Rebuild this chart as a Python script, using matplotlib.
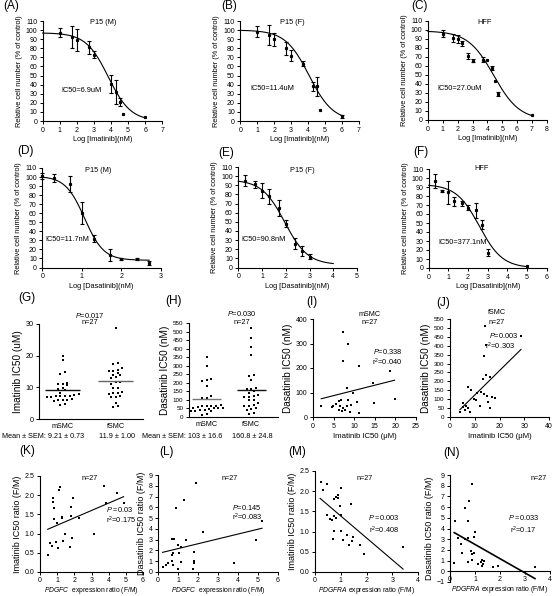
import numpy as np
import matplotlib
matplotlib.use('Agg')
import matplotlib.pyplot as plt

plt.rcParams['font.family'] = ['Liberation Sans', 'DejaVu Sans']
plt.rcParams['mathtext.fontset'] = 'custom'
plt.rcParams['mathtext.rm'] = 'Liberation Sans'
plt.rcParams['mathtext.it'] = 'Liberation Sans:italic'

# ---------------- data: dose-response panels ----------------
A_x = [1, 1.7, 2, 2.7, 3, 4, 4.3, 4.5, 4.7, 6]
A_y = [97, 92, 89, 81, 73, 41, 32, 21, 8, 4]
A_e = [5, 12, 12, 7, 4, 10, 13, 4, 0, 0]
A_fit = dict(top=97, bottom=0, logic50=3.84, hill=0.665, x0=0, x1=6)

B_x = [1, 1.7, 2, 2.7, 3, 3.7, 4.3, 4.5, 4.7, 6]
B_y = [98, 95, 90, 80, 72, 63, 38, 38, 12, 5]
B_e = [6, 11, 7, 7, 6, 3, 5, 10, 0, 2]
B_fit = dict(top=100, bottom=0, logic50=4.06, hill=0.62, x0=0, x1=6)

C_x = [1, 1.7, 2, 2.3, 2.7, 3, 3.7, 4, 4.3, 4.5, 4.7, 7]
C_y = [96, 91, 90, 85, 71, 66, 67, 67, 58, 43, 29, 5]
C_e = [4, 4, 4, 3, 3, 2, 3, 0, 2, 0, 2, 0]
C_fit = dict(top=99, bottom=0, logic50=4.43, hill=0.5, x0=0, x1=7)

D_x = [0, 0.3, 0.7, 1, 1.3, 1.7, 2, 2.4, 2.7]
D_y = [101, 99, 92, 60, 32, 14, 9, 9, 5]
D_e = [3, 4, 9, 12, 4, 7, 1, 1, 2]
D_fit = dict(top=101, bottom=8, logic50=1.068, hill=1.8, x0=0, x1=2.7)

E_x = [0.3, 0.7, 1, 1.3, 1.7, 2, 2.4, 2.7, 3]
E_y = [95, 91, 84, 78, 65, 48, 26, 18, 12]
E_e = [6, 4, 8, 8, 9, 4, 6, 5, 3]
E_fit = dict(top=96, bottom=3, logic50=1.958, hill=0.9, x0=0, x1=4)

F_x = [0.3, 0.7, 1, 1.3, 1.7, 2, 2.4, 2.7, 3, 5]
F_y = [97, 86, 84, 74, 72, 67, 64, 48, 17, 2]
F_e = [8, 1, 13, 5, 3, 3, 8, 5, 4, 0]
F_fit = dict(top=93, bottom=0, logic50=2.576, hill=0.74, x0=0, x1=5)

# ---------------- data: column scatter ----------------
groups = ['mSMC', 'fSMC']
G_m = [19.8, 18.6, 14.8, 14.3, 11.3, 11.2, 10.9, 10.6, 9.8, 9.6, 9.2, 8.3, 8.0,
       7.5, 7.3, 7.2, 7.1, 7.4, 7.0, 7.3, 6.3, 6.1, 6.0, 5.9, 5.6, 4.6, 4.5]
G_f = [28.6, 17.8, 17.3, 16.0, 15.4, 15.3, 15.2, 14.5, 14.0, 13.8, 13.2, 12.9, 11.8,
       11.7, 11.2, 9.7, 9.9, 8.6, 8.2, 8.0, 8.1, 7.2, 7.0, 6.9, 5.0, 4.1, 3.8]
G_means = [9.21, 11.9]
G_stats = ['9.21 ± 0.73', '11.9 ± 1.00']

H_m = [351, 296, 222, 218, 208, 179, 121, 111, 110, 68, 66, 64, 63, 62, 60, 55,
       53, 52, 50, 37, 35, 33, 18, 14, 45, 42, 40]
H_f = [520, 462, 409, 364, 247, 238, 218, 170, 164, 166, 140, 121, 117, 119, 101,
       97, 66, 68, 64, 43, 45, 20, 22, 150, 130, 80, 55]
H_means = [103, 160.8]
H_stats = ['103 ± 16.6', '160.8 ± 24.8']

# ---------------- data: correlations ----------------
I_x = [2.0, 4.6, 4.8, 6.2, 6.8, 6.2, 7.2, 7.8, 6.6, 7.4, 7.2, 8.6, 8.2, 8.4, 8.2,
       9.2, 9.6, 10.8, 11.2, 11.2, 14.5, 14.9, 18.8, 19.8, 5.5, 7.0, 9.0]
I_y = [46, 39, 46, 30, 71, 64, 37, 30, 46, 227, 347, 299, 118, 71, 46,
       50, 100, 60, 16, 207, 137, 56, 189, 72, 55, 25, 20]
I_fit = dict(slope=4.25, intercept=66, x0=2.0, x1=19.8)

J_x = [14.1, 28.7, 14.4, 13.9, 14.4, 13.5, 16.2, 7.1, 8.5, 10.8, 10.4, 12.5, 13.9,
       14.8, 16.8, 18.2, 15.2, 12.1, 16.2, 5.4, 5.4, 7.4, 8.1, 4.0, 6.0, 9.5, 6.5]
J_y = [509, 453, 402, 345, 238, 215, 225, 169, 150, 135, 97, 139, 129,
       120, 112, 107, 82, 64, 51, 79, 56, 51, 26, 26, 41, 100, 60]
J_fit = dict(slope=13.7, intercept=-13.8, x0=4.0, x1=28.7)

K_x = [0.45, 0.58, 0.72, 0.78, 0.78, 0.82, 0.82, 0.94, 1.01, 1.07, 1.13, 1.17, 1.27,
       1.31, 1.36, 1.46, 1.72, 1.79, 1.81, 1.89, 1.95, 2.28, 3.12, 3.70, 3.86, 4.48, 4.87]
K_y = [0.43, 0.75, 0.67, 1.94, 1.83, 1.66, 1.38, 0.78, 1.27, 0.62, 2.14, 2.21, 1.40,
       1.44, 0.81, 0.99, 0.64, 1.69, 1.45, 0.88, 1.94, 1.40, 0.99, 2.25, 1.79, 2.05, 1.79]
K_fit = dict(slope=0.192, intercept=1.026, x0=0.45, x1=4.87)

L_x = [0.23, 0.40, 0.48, 0.70, 0.70, 0.73, 0.70, 0.75, 0.80, 0.90, 0.77, 0.98, 1.07,
       1.15, 1.15, 1.28, 1.40, 0.98, 1.73, 1.90, 1.82, 1.82, 1.82, 2.27, 3.82, 4.90, 5.20]
L_y = [0.46, 0.68, 0.83, 1.05, 1.60, 1.76, 3.10, 3.10, 3.10, 5.95, 0.68, 2.53, 1.76,
       2.28, 0.90, 6.64, 3.00, 0.28, 0.31, 8.24, 1.85, 1.05, 0.83, 3.70, 0.83, 3.00, 4.75]
L_fit = dict(slope=0.45, intercept=1.72, x0=0.23, x1=5.2)

M_x = [0.23, 0.30, 0.45, 0.45, 0.65, 0.75, 0.82, 0.75, 0.82, 0.88, 0.91, 0.71, 0.75,
       0.97, 1.01, 1.01, 1.01, 1.10, 1.23, 1.32, 1.39, 1.43, 1.49, 1.73, 1.92, 3.42, 0.60]
M_y = [2.22, 2.04, 2.17, 1.42, 1.28, 1.38, 1.34, 1.80, 1.86, 1.90, 1.82, 0.81, 1.01,
       1.63, 2.09, 1.40, 1.01, 0.80, 0.91, 0.68, 1.68, 0.77, 0.87, 0.66, 0.44, 0.62, 1.30]
M_fit = dict(slope=-0.543, intercept=1.93, x0=0.2, x1=3.42)

N_x = [0.20, 0.17, 0.31, 0.44, 0.47, 0.60, 0.71, 0.73, 0.73, 0.77, 0.87, 0.84, 0.87,
       0.87, 0.97, 0.97, 1.00, 1.11, 1.24, 1.29, 1.33, 1.37, 1.73, 1.91, 3.40, 1.27, 0.60]
N_y = [4.66, 0.78, 3.07, 2.55, 1.71, 5.90, 0.87, 4.72, 3.07, 6.58, 8.14, 1.93, 1.61,
       1.06, 1.71, 3.17, 3.63, 0.68, 0.84, 1.06, 0.68, 0.99, 0.37, 0.53, 0.37, 0.53, 3.00]
N_fit = dict(slope=-1.33, intercept=3.84, x0=0.17, x1=3.4)

# ---------------- figure helpers ----------------
W, H = 552, 596
fig = plt.figure(figsize=(W / 100, H / 100), dpi=100)


def add_ax(x0, x1, y0, y1):
    return fig.add_axes([x0 / W, 1 - y1 / H, (x1 - x0) / W, (y1 - y0) / H])


def ftext(x, y, s, **kw):
    kw.setdefault('ha', 'center')
    kw.setdefault('va', 'center')
    fig.text(x / W, 1 - y / H, s, **kw)


def style(ax, ls=5):
    for s in ['top', 'right']:
        ax.spines[s].set_visible(False)
    for s in ['left', 'bottom']:
        ax.spines[s].set_linewidth(0.8)
    ax.tick_params(direction='out', length=2.5, width=0.7, labelsize=ls, pad=1.5)


def dose(ax, x, y, e, fit, xmax, xlabel):
    style(ax)
    x = np.array(x, float); y = np.array(y, float); e = np.array(e, float)
    m = e > 0
    ax.errorbar(x[m], y[m], yerr=e[m], fmt='s', ms=1.3, color='black',
                ecolor='black', elinewidth=0.8, capsize=1.5, capthick=0.8, clip_on=False)
    ax.plot(x[~m], y[~m], 's', ms=1.3, color='black', clip_on=False)
    xs = np.linspace(fit['x0'], fit['x1'], 300)
    ys = fit['bottom'] + (fit['top'] - fit['bottom']) / (1 + 10 ** ((xs - fit['logic50']) * fit['hill']))
    ax.plot(xs, ys, color='black', lw=0.8, clip_on=False)
    ax.set_xlim(0, xmax)
    ax.set_ylim(0, 110)
    ax.set_xticks(range(0, xmax + 1))
    ax.set_yticks(range(0, 111, 10))
    ax.set_xlabel(xlabel, fontsize=5.3, labelpad=2)
    ax.set_ylabel('Relative cell number (% of control)', fontsize=5.3, labelpad=2)


# ---------------- rows 1 and 2 ----------------
axA = add_ax(42.7, 162.3, 21, 121)
dose(axA, A_x, A_y, A_e, A_fit, 7, 'Log [Imatinib](nM)')
axB = add_ax(240.3, 359, 21, 121)
dose(axB, B_x, B_y, B_e, B_fit, 7, 'Log [Imatinib](nM)')
axC = add_ax(428, 546.7, 21, 120)
dose(axC, C_x, C_y, C_e, C_fit, 8, 'Log [Imatinib](nM)')
axD = add_ax(42.3, 161, 168, 267.5)
dose(axD, D_x, D_y, D_e, D_fit, 3, 'Log [Dasatinib](nM)')
axE = add_ax(238.3, 357, 167, 267.5)
dose(axE, E_x, E_y, E_e, E_fit, 5, 'Log [Dasatinib](nM)')
axF = add_ax(428.7, 546.7, 169, 268)
dose(axF, F_x, F_y, F_e, F_fit, 6, 'Log [Dasatinib](nM)')

fs_in = 5.3
ftext(103, 23, 'P15 (M)', fontsize=fs_in)
ftext(82, 90, 'IC50=6.9uM', fontsize=fs_in)
ftext(292, 23, 'P15 (F)', fontsize=fs_in)
ftext(272, 89, 'IC50=11.4uM', fontsize=fs_in)
ftext(485, 23, 'HFF', fontsize=fs_in)
ftext(460, 88, 'IC50=27.0uM', fontsize=fs_in)
ftext(98, 171, 'P15 (M)', fontsize=fs_in)
ftext(67, 239, 'IC50=11.7nM', fontsize=fs_in)
ftext(302, 170, 'P15 (F)', fontsize=fs_in)
ftext(264, 239, 'IC50=90.8nM', fontsize=fs_in)
ftext(482, 168, 'HFF', fontsize=fs_in)
ftext(463, 243, 'IC50=377.1nM', fontsize=fs_in)


# ---------------- row 3: column scatters ----------------
def column_positions(ax, center, vals, bin_px=3.4, step_px=4.6):
    """Prism-like column scatter: points grouped in pixel rows, spread evenly."""
    t = ax.transData
    pxu = t.transform((1, 0))[0] - t.transform((0, 0))[0]
    ypx = np.array([t.transform((0, v))[1] for v in vals])
    order = np.argsort(ypx)
    xs = np.zeros(len(vals))
    rows = []
    for i in order:
        if rows and ypx[i] - ypx[rows[-1][0]] < bin_px:
            rows[-1].append(i)
        else:
            rows.append([i])
    for row in rows:
        n = len(row)
        for j, i in enumerate(row):
            xs[i] = center + ((j - (n - 1) / 2) * step_px) / pxu
    return xs


def column(ax, mvals, fvals, means, ylim, yticks, ylabel, mcols):
    style(ax)
    ax.set_ylim(*ylim)
    ax.set_yticks(yticks)
    ax.set_xticks([0, 1])
    ax.set_xticklabels(groups, fontsize=5.2)
    ax.tick_params(axis='x', length=0, pad=3)
    for c, vals in enumerate([mvals, fvals]):
        v = np.array(vals, float)
        xs = column_positions(ax, c, v)
        ax.scatter(xs, v, s=2.6, marker='s', color='black', linewidths=0, clip_on=False)
        ax.hlines(means[c], c - 0.33, c + 0.33, color=mcols[c], lw=1.0)
    ax.set_ylabel(ylabel, fontsize=7.2, labelpad=2)


axG = add_ax(39, 143, 324, 419)
axG.set_xlim(-0.45, 1.52)
column(axG, G_m, G_f, G_means, (0, 30), [0, 10, 20, 30], 'Imatinib IC50 (uM)', ['#111111', '#666666'])
axG.set_xlim(-0.45, 1.52)
axG.tick_params(axis='y', labelsize=5.2)
axH = add_ax(189, 278, 323, 417)
axH.set_xlim(-0.4, 1.6)
column(axH, H_m, H_f, H_means, (0, 550), list(range(0, 551, 50)), 'Dasatinib IC50 (nM)', ['#777777', '#111111'])
axH.set_xlim(-0.4, 1.6)
axH.tick_params(axis='y', labelsize=4.5)

ftext(90, 315, r'$\mathit{P}$=0.017', fontsize=5.3)
ftext(90, 323, 'n=27', fontsize=5.3)
ftext(242, 314, r'$\mathit{P}$=0.030', fontsize=5.3)
ftext(242, 323, 'n=27', fontsize=5.3)
ftext(84, 437, 'Mean ± SEM: ' + G_stats[0], fontsize=5.2, ha='right')
ftext(117, 437, G_stats[1], fontsize=5.2)
ftext(222, 437, 'Mean ± SEM: ' + H_stats[0], fontsize=5.2, ha='right')
ftext(252, 437, H_stats[1], fontsize=5.2)


def corr(ax, x, y, fit, xlim, ylim, xticks, yticks, xlabel, ylabel, xfs, yfs, lw=0.8, fmt=None, xpad=2.5):
    style(ax)
    ax.scatter(x, y, s=1.8, marker='s', color='black', linewidths=0, clip_on=False)
    xs = np.array([fit['x0'], fit['x1']])
    ax.plot(xs, fit['intercept'] + fit['slope'] * xs, color='black', lw=lw)
    ax.set_xlim(*xlim)
    ax.set_ylim(*ylim)
    ax.set_xticks(xticks)
    ax.set_yticks(yticks)
    if fmt:
        ax.set_yticklabels([fmt % v for v in yticks])
    ax.set_xlabel(xlabel, fontsize=xfs, labelpad=xpad)
    ax.set_ylabel(ylabel, fontsize=yfs, labelpad=2)


axI = add_ax(313, 416, 319, 417)
corr(axI, I_x, I_y, I_fit, (0, 25), (0, 400), range(0, 26, 5), range(0, 401, 100),
     'Imatinib IC50 (μM)', 'Dasatinib IC50 (nM)', 5.6, 7.2)
axJ = add_ax(450, 549, 319, 417)
corr(axJ, J_x, J_y, J_fit, (0, 40), (0, 550), range(0, 41, 10), range(0, 551, 50),
     'Imatinib IC50 (μM)', 'Dasatinib IC50 (nM)', 5.6, 7.2)
axJ.tick_params(axis='y', labelsize=4.5)

ftext(370, 314, 'mSMC', fontsize=5.2)
ftext(370, 323, 'n=27', fontsize=5.2)
ftext(373, 352, r'$\mathit{P}$=0.338', fontsize=5.3, ha='left')
ftext(372, 362, r'r$^2$=0.040', fontsize=5.3, ha='left')
ftext(497, 313, 'fSMC', fontsize=5.2)
ftext(497, 322, 'n=27', fontsize=5.2)
ftext(489, 336, r'$\mathit{P}$=0.003', fontsize=5.3, ha='left')
ftext(485, 346, r'r$^2$=0.303', fontsize=5.3, ha='left')

# ---------------- row 4 ----------------
axK = add_ax(40, 143, 476, 572)
corr(axK, K_x, K_y, K_fit, (0, 6), (0, 2.5), range(0, 7), [0, 0.5, 1.0, 1.5, 2.0, 2.5],
     r'$\mathit{PDGFC}$  expression ratio (F/M)', 'Imatinib IC50 ratio (F/M)', 4.9, 6.5, fmt='%.1f', xpad=0.8)
axL = add_ax(158, 278, 475, 572)
corr(axL, L_x, L_y, L_fit, (0, 6), (0, 9), range(0, 7), range(0, 10),
     r'$\mathit{PDGFC}$  expression ratio (F/M)', 'Dasatinib IC50 ratio (F/M)', 4.9, 6.5, xpad=0.8)
axM = add_ax(315, 418, 471, 572)
corr(axM, M_x, M_y, M_fit, (0, 4), (0, 2.5), range(0, 5), [0, 0.5, 1.0, 1.5, 2.0, 2.5],
     r'$\mathit{PDGFRA}$ expression ratio (F/M)', 'Imatinib IC50 ratio (F/M)', 4.9, 6.5, fmt='%.1f', xpad=0.8)
axN = add_ax(450, 550, 475, 582)
corr(axN, N_x, N_y, N_fit, (0, 4), (-1, 9), range(0, 5), range(-1, 10),
     r'$\mathit{PDGFRA}$ expression ratio (F/M)', 'Dasatinib IC50 ratio (F/M)', 4.9, 6.5, lw=1.2, xpad=0.8)
axN.spines['bottom'].set_position(('data', 0))
for ax in (axK, axL, axM, axN):
    ax.tick_params(axis='x', pad=1.0)

ftext(90, 478, 'n=27', fontsize=5.2)
ftext(106, 510, r'$\mathit{P}$ =0.03', fontsize=5.3, ha='left')
ftext(106, 520, r'r$^2$=0.175', fontsize=5.3, ha='left')
ftext(230, 478, 'n=27', fontsize=5.2)
ftext(232, 507, r'$\mathit{P}$=0.145', fontsize=5.3, ha='left')
ftext(232, 517, r'r$^2$=0.083', fontsize=5.3, ha='left')
ftext(365, 478, 'n=27', fontsize=5.2)
ftext(368, 518, r'$\mathit{P}$ =0.003', fontsize=5.3, ha='left')
ftext(369, 530, r'r$^2$=0.408', fontsize=5.3, ha='left')
ftext(539, 478, 'n=27', fontsize=5.2)
ftext(508, 518, r'$\mathit{P}$ =0.033', fontsize=5.3, ha='left')
ftext(510, 530, r'r$^2$=0.17', fontsize=5.3, ha='left')

# ---------------- panel letters ----------------
letters = [('(A)', 11, 6), ('(B)', 229, 6), ('(C)', 420, 6),
           ('(D)', 25, 151), ('(E)', 226, 153), ('(F)', 421, 152),
           ('(G)', 27, 298), ('(H)', 174, 301), ('(I)', 312, 302), ('(J)', 443, 303),
           ('(K)', 27, 451), ('(L)', 166, 452), ('(M)', 297, 452), ('(N)', 452, 453)]
for s, x, y in letters:
    ftext(x, y, s, fontsize=8.5)

fig.savefig('out.png', dpi=100)
